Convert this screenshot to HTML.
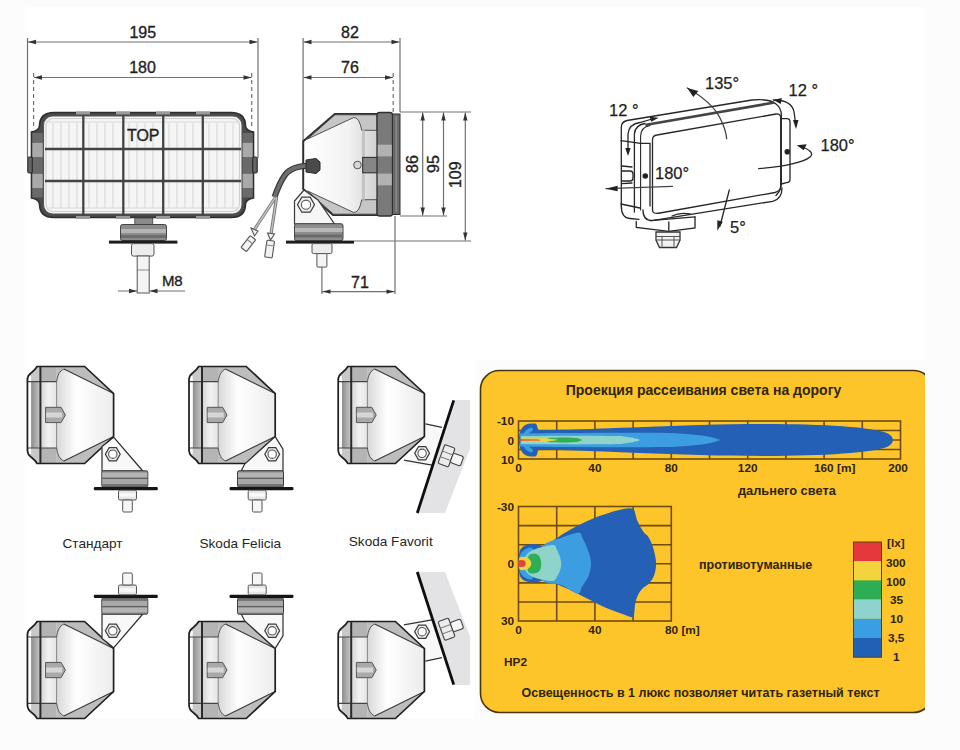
<!DOCTYPE html>
<html><head><meta charset="utf-8">
<style>
html,body{margin:0;padding:0;background:#fff;}
body{width:960px;height:750px;overflow:hidden;}
svg{display:block;font-family:"Liberation Sans",sans-serif;}
</style></head>
<body>
<svg width="960" height="750" viewBox="0 0 960 750">
<defs>
  <clipPath id="clipPanel"><rect x="0" y="0" width="925" height="750"/></clipPath>
</defs>
<rect x="0" y="0" width="960" height="750" fill="#fcfcfc"/>
<rect x="25" y="7" width="899" height="353" fill="#ffffff"/>
<rect x="25" y="359" width="450" height="360" fill="#ffffff"/>

<!-- ============ FRONT VIEW ============ -->
<g id="front">
  <!-- dimension lines -->
  <g stroke="#707070" stroke-width="1.2" fill="none">
    <path d="M27.5,38V158 M258,38V158"/>
    <path d="M33.6,73V128" stroke-dasharray="4,3"/>
    <path d="M251.7,73V128" stroke-dasharray="4,3"/>
    <path d="M28,42H257.5 M34,77.5H251.5"/>
  </g>
  <g fill="#333">
    <path d="M28,42 l8,-2.2 v4.4z M257.5,42 l-8,-2.2 v4.4z M34,77.5 l8,-2.2 v4.4z M251.5,77.5 l-8,-2.2 v4.4z"/>
  </g>
  <g font-size="16" fill="#1f1f1f" stroke="#1f1f1f" stroke-width="0.35" text-anchor="middle">
    <text x="142.8" y="38">195</text>
    <text x="142.5" y="73.3">180</text>
  </g>
  <!-- body with side brackets -->
  <path d="M54,112.5 L231,112.5 Q245.5,112.5 245.5,126 Q246,130.5 253.5,132 L253.5,198 Q246,199.5 245.5,204 Q245.5,217.5 231,217.5 L54,217.5 Q39.5,217.5 39.5,204 Q39,199.5 31.5,198 L31.5,132 Q39,130.5 39.5,126 Q39.5,112.5 54,112.5 Z" fill="#4a4a4a" stroke="#2e2e2e" stroke-width="1.6"/>
  <g fill="#a9a9a9">
    <rect x="32.3" y="142.5" width="10.5" height="14.5"/>
    <rect x="32.3" y="173.5" width="10.5" height="14.5"/>
    <rect x="242.2" y="142.5" width="10.5" height="14.5"/>
    <rect x="242.2" y="173.5" width="10.5" height="14.5"/>
  </g>
  <g fill="#6a6a6a">
    <rect x="32.3" y="133" width="10.5" height="9.5"/>
    <rect x="32.3" y="157" width="10.5" height="16.5"/>
    <rect x="32.3" y="188" width="10.5" height="9.5"/>
    <rect x="242.2" y="133" width="10.5" height="9.5"/>
    <rect x="242.2" y="157" width="10.5" height="16.5"/>
    <rect x="242.2" y="188" width="10.5" height="9.5"/>
  </g>
  <rect x="27.8" y="157" width="4.5" height="16" rx="1.5" fill="#666" stroke="#2e2e2e" stroke-width="1.2"/>
  <rect x="252.7" y="157" width="4.5" height="16" rx="1.5" fill="#666" stroke="#2e2e2e" stroke-width="1.2"/>
  <rect x="43.5" y="116" width="198.5" height="98" rx="9" fill="#f5f5f5" stroke="#555" stroke-width="1.1"/>
  <rect x="46" y="118.5" width="193.5" height="93" rx="7" fill="none" stroke="#d0d0d0" stroke-width="1.2"/>
  <g stroke="#d8d8d8" stroke-width="1.1">
    <path d="M53,123V208 M61,123V208 M69,123V208 M77,123V208 M89,123V208 M97,123V208 M105,123V208 M113,123V208 M129,123V208 M137,123V208 M145,123V208 M153,123V208 M169,123V208 M177,123V208 M185,123V208 M193,123V208 M209,123V208 M217,123V208 M225,123V208 M233,123V208"/>
    <path d="M48,122H238 M48,208H238"/>
  </g>
  <!-- grid bars -->
  <g stroke="#444" stroke-width="2.3">
    <path d="M83.3,112V218 M123.3,112V218 M163.2,112V218 M202.8,112V218"/>
    <path d="M45,149H241 M45,181H241"/>
  </g>
  <g fill="#9a9a9a">
    <rect x="76" y="111.5" width="14" height="3"/><rect x="116" y="111.5" width="14" height="3"/><rect x="156" y="111.5" width="14" height="3"/><rect x="196" y="111.5" width="14" height="3"/>
    <rect x="76" y="216" width="14" height="3"/><rect x="116" y="216" width="14" height="3"/><rect x="156" y="216" width="14" height="3"/><rect x="196" y="216" width="14" height="3"/>
  </g>
  <text x="143.2" y="140.5" font-size="16" fill="#1f1f1f" stroke="#1f1f1f" stroke-width="0.35" text-anchor="middle">TOP</text>
  <!-- mount -->
  <rect x="134.8" y="218" width="18" height="7" fill="#8a8a8a" stroke="#444" stroke-width="0.8"/>
  <rect x="120.5" y="224.5" width="46" height="16" rx="2" fill="#8c8c8c" stroke="#444" stroke-width="1"/>
  <rect x="121" y="229" width="45" height="4" fill="#b5b5b5"/>
  <rect x="121" y="235" width="45" height="3" fill="#6d6d6d"/>
  <rect x="109" y="240.6" width="68.4" height="3" fill="#1e1e1e"/>
  <rect x="131.5" y="243.6" width="22.5" height="12.5" rx="2" fill="#ececec" stroke="#555" stroke-width="1"/>
  <rect x="137.2" y="256" width="12" height="37" fill="#f4f4f4" stroke="#555" stroke-width="1"/>
  <path d="M137.2,270H149.2" stroke="#777" stroke-width="0.8"/>
  <g stroke="#707070" stroke-width="1.2"><path d="M118,291H137 M149.5,291H185"/></g>
  <g fill="#333"><path d="M137,291 l-8,-2.2 v4.4z M149.5,291 l8,-2.2 v4.4z"/></g>
  <text x="172.3" y="285.6" font-size="15" fill="#1f1f1f" stroke="#1f1f1f" stroke-width="0.35" text-anchor="middle">M8</text>
</g>

<!-- ============ SIDE VIEW ============ -->
<defs>
  <linearGradient id="gBody" x1="0" y1="0" x2="1" y2="0">
    <stop offset="0" stop-color="#ffffff"/><stop offset="0.6" stop-color="#f2f2f2"/><stop offset="1" stop-color="#d0d0d0"/>
  </linearGradient>
  <linearGradient id="gBodyL" x1="1" y1="0" x2="0" y2="0">
    <stop offset="0" stop-color="#ffffff"/><stop offset="0.6" stop-color="#f2f2f2"/><stop offset="1" stop-color="#d0d0d0"/>
  </linearGradient>
</defs>
<g id="side">
  <g stroke="#707070" stroke-width="1.2" fill="none">
    <path d="M303.1,38V141 M400,38V112"/>
    <path d="M393.2,73V112" stroke-dasharray="4,3"/>
    <path d="M303.5,42H399.5 M303.5,77.5H393"/>
    <path d="M400,112H471 M400,216H447 M354,241H471"/>
    <path d="M422.7,112.5V215.5 M443.5,112.5V215.5 M465.3,112.5V240.5"/>
    <path d="M321.9,267V294 M395,216V294 M322,291.6H394.5"/>
  </g>
  <g fill="#333">
    <path d="M303.5,42 l8,-2.2 v4.4z M399.5,42 l-8,-2.2 v4.4z M303.5,77.5 l8,-2.2 v4.4z M393,77.5 l-8,-2.2 v4.4z"/>
    <path d="M422.7,112.5 l-2.2,8 h4.4z M422.7,215.5 l-2.2,-8 h4.4z M443.5,112.5 l-2.2,8 h4.4z M443.5,215.5 l-2.2,-8 h4.4z M465.3,112.5 l-2.2,8 h4.4z M465.3,240.5 l-2.2,-8 h4.4z"/>
    <path d="M322.5,291.6 l8,-2.2 v4.4z M394.5,291.6 l-8,-2.2 v4.4z"/>
  </g>
  <g font-size="16" fill="#1f1f1f" stroke="#1f1f1f" stroke-width="0.35" text-anchor="middle">
    <text x="350" y="38">82</text>
    <text x="350" y="73.2">76</text>
    <text x="360" y="288.2">71</text>
    <text transform="translate(418,164) rotate(-90)" x="0" y="0">86</text>
    <text transform="translate(438.5,164) rotate(-90)" x="0" y="0">95</text>
    <text transform="translate(460.5,174.7) rotate(-90)" x="0" y="0">109</text>
  </g>
  <!-- body -->
  <path d="M303.2,141.2 L334.8,114 L378,114 L378,215 L333,215 L303.2,189 Z" fill="url(#gBody)" stroke="#2f2f2f" stroke-width="2"/>
  <path d="M307.6,139 L353.3,117.7 C357,117 360,121 361.7,130.3 L377,130.3 L377,114.8 L335,114.8 Z" fill="#c6c6c6" stroke="#444" stroke-width="0.9"/>
  <path d="M307.6,191 L353.3,212.3 C357,213 360,209 361.7,199.7 L377,199.7 L377,214.2 L333.5,214.2 Z" fill="#c6c6c6" stroke="#444" stroke-width="0.9"/>
  <rect x="362" y="130.3" width="3" height="69.4" fill="#c4c4c4"/>
  <!-- tab -->
  <circle cx="357.5" cy="165" r="3.8" fill="#d8d8d8" stroke="#555" stroke-width="1"/>
  <rect x="362.7" y="157.4" width="15" height="15.4" fill="#868686" stroke="#333" stroke-width="1.1"/>
  <!-- flange -->
  <rect x="377" y="112.5" width="15.5" height="103.5" rx="2.5" fill="#7a7a7a" stroke="#2f2f2f" stroke-width="1.3"/>
  <rect x="377.8" y="144.7" width="14" height="11.7" fill="#b2b2b2"/>
  <rect x="377.8" y="173.6" width="14" height="11.7" fill="#b2b2b2"/>
  <rect x="392.5" y="114" width="7.5" height="100.5" fill="#6a6a6a" stroke="#2f2f2f" stroke-width="1"/>
  <path d="M396.3,116V212" stroke="#8a8a8a" stroke-width="1.6"/>
  <!-- cable -->
  <path d="M312,165.5 C300,165.5 290,168 285,175 C280,182 277,190 274.5,197" fill="none" stroke="#333" stroke-width="6"/>
  <path d="M312,165.5 C300,165.5 290,168 285,175 C280,182 277,190 274.5,197" fill="none" stroke="#6e6e6e" stroke-width="3.8"/>
  <path d="M306,160 L316,158.5 L320,162 L320,170 L316,173.5 L306,172 Z" fill="#4a4a4a" stroke="#2a2a2a" stroke-width="1"/>
  <g fill="none" stroke-linecap="round">
    <path d="M275,198 L254.5,229.5 M276.5,198 L271,234" stroke="#777" stroke-width="3.2"/>
    <path d="M275,198 L254.5,229.5 M276.5,198 L271,234" stroke="#c4c4c4" stroke-width="1.4"/>
  </g>
  <g fill="#f2f2f2" stroke="#555" stroke-width="1.1">
    <path d="M251,228 L258,231 L254.5,236 Z"/>
    <g transform="translate(248,244) rotate(38)"><rect x="-3.5" y="-8" width="7" height="15" rx="1"/><path d="M-3.5,-3 h7" stroke="#888"/></g>
    <path d="M267.5,233 L274.5,234 L270.5,240 Z"/>
    <g transform="translate(269.5,249.5) rotate(8)"><rect x="-3.8" y="-9" width="7.6" height="17" rx="1"/><path d="M-3.8,-4 h7.6" stroke="#888"/></g>
  </g>
  <!-- bracket -->
  <path d="M304,190 L294.5,201 L294.5,224 L334.5,224 L318,200 Z" fill="#f6f6f6" stroke="#3a3a3a" stroke-width="1.2"/>
  <path d="M301.8,197.2 h8.4 l4.3,7.5 l-4.3,7.5 h-8.4 l-4.3,-7.5z" fill="#f0f0f0" stroke="#3a3a3a" stroke-width="1.2"/>
  <circle cx="306" cy="204.7" r="4.6" fill="#fff" stroke="#555" stroke-width="1.1"/>
  <!-- pedestal -->
  <rect x="294.5" y="223.7" width="48.5" height="17" rx="2" fill="#8d8d8d" stroke="#444" stroke-width="1"/>
  <rect x="295" y="228" width="47.5" height="4" fill="#b8b8b8"/>
  <rect x="295" y="234.5" width="47.5" height="3" fill="#6b6b6b"/>
  <rect x="286" y="240.6" width="68" height="3" fill="#1e1e1e"/>
  <rect x="312" y="243.6" width="20" height="10" rx="1.5" fill="#ececec" stroke="#555" stroke-width="1"/>
  <rect x="316.9" y="253.6" width="10" height="13.5" rx="1" fill="#f4f4f4" stroke="#555" stroke-width="1"/>
</g>

<!-- ============ PERSPECTIVE VIEW ============ -->
<g id="persp" fill="none" stroke="#262626" stroke-width="1.3" stroke-linecap="round">
  <!-- outer top line -->
  <path d="M621.3,206 L621.3,127 Q621.3,122 627,120.5 L752,100 Q770,98.5 776,104 Q781.3,108 781.3,115 L781.3,184 Q781.3,190 776,195.5"/>
  <!-- thick top line -->
  <path d="M646.5,124.7 L773.3,102.7" stroke-width="2.6" stroke="#444"/>
  <path d="M640.6,210 L640.6,136 Q641,127 650,125.5" stroke-width="1.1"/>
  <path d="M634.4,212 L634.4,134 Q635,125 645,123.5"/>
  <!-- lens outline -->
  <path d="M652.5,210 L652.5,140 Q652.5,135.5 657,135 L776,114 Q780.7,113.5 780.7,118 L780.7,186 Q780.7,191 775,192.5 L660,213 Q652.5,214.5 652.5,210 Z" fill="#fff"/>
  <!-- outer bottom -->
  <path d="M643,210 Q643,220.6 652,220.6 L772.7,201.3 Q782,199 782,188" />
  <path d="M621.3,206 Q621.3,218 630,218.5 L639,219.4"/>
  <path d="M621,204 L640,208"/>
  <path d="M621,140.7 L640.6,143.3"/>
  <!-- left bracket -->
  <path d="M640.6,143.3 L650,143.3 L650,206"/>
  <!-- latch -->
  <path d="M622,166 L632,167 M622,183.7 L632,183 M622,171 L630,171 Q633,171 633,174 L633,178 Q633,181 630,181 L622,181"/>
  <!-- right bracket -->
  <path d="M781.3,118.7 L787,118.7 Q790,118.7 790,122 L790,179 Q790,182.7 786.5,182.7 L781.3,184"/>
  <!-- mount -->
  <path d="M636.3,221.3 L636.3,227.5 L668.8,231.3 L695,228 L695,216.9"/>
  <path d="M668.8,222 L668.8,231.3 M650,220.6 L695,216.9 M672,216 Q680,212 690,214"/>
  <path d="M656,232 L680,232 L680,240 L676.5,247.5 L659.5,247.5 L656,240 Z" fill="#f2f2f2" stroke="#333"/>
  <path d="M656,236.5 H680 M656,240 H680 M662,236.5 V247.5 M674,236.5 V247.5" stroke="#555" stroke-width="1"/>
  <!-- arrows / arcs -->
  <path d="M628,150 L628,134 Q629,124 640,122.5 L652,119"/>
  <path d="M687.3,88 Q712,102 720,118 Q726,130 726.7,138.7" stroke="#444"/>
  <path d="M773.3,100 Q792,100 794,112 L796,126"/>
  <path d="M758.7,168.7 Q800,165 810,157 Q816,152 800,146"/>
  <path d="M606,188.7 L672.5,186.3" stroke="#444"/>
  <path d="M729.3,190 L720,226"/>
</g>
<g fill="#222" stroke="none">
  <path d="M687.3,88 l11,3 l-5,6z"/>
  <path d="M773.3,100 l8,-3.5 l0,6z" transform="rotate(10 773 100)"/>
  <path d="M796,129 l-3,-9 l5.5,0z"/>
  <path d="M796.7,145.3 l10,-1 l-3,6z"/>
  <path d="M605.6,188.7 l12,-3 l0,5.5z"/>
  <path d="M628,156 l-2.8,-8 l5.5,0z"/>
  <path d="M658.7,117.7 l-9,-1 l1.5,5z"/>
  <path d="M717.3,230.7 l0,-10.5 l5.5,1.5z"/>
  <circle cx="645.3" cy="176" r="2.8"/>
  <circle cx="787.3" cy="151.7" r="2.8"/>
</g>
<g font-size="16.5" fill="#1f1f1f" stroke="#1f1f1f" stroke-width="0.25">
  <text x="705" y="89.3">135°</text>
  <text x="609" y="116">12 °</text>
  <text x="788.5" y="95.5">12 °</text>
  <text x="820.5" y="150.5">180°</text>
  <text x="655" y="178.7">180°</text>
  <text x="730" y="232.5">5°</text>
</g>

<!-- ============ MOUNT VARIATIONS ============ -->
<defs>
  <linearGradient id="gSm" x1="0" y1="0" x2="1" y2="0">
    <stop offset="0" stop-color="#d8d8d8"/><stop offset="0.35" stop-color="#ffffff"/><stop offset="1" stop-color="#ececec"/>
  </linearGradient>
  <linearGradient id="gFront" x1="0" y1="0" x2="1" y2="0">
    <stop offset="0" stop-color="#8c8c8c"/><stop offset="1" stop-color="#c4c4c4"/>
  </linearGradient>
  <linearGradient id="gFlange" x1="0" y1="0" x2="1" y2="0">
    <stop offset="0" stop-color="#d4d4d4"/><stop offset="0.5" stop-color="#f2f2f2"/><stop offset="1" stop-color="#e4e4e4"/>
  </linearGradient>
  <g id="smLamp">
    <!-- outer fill -->
    <path d="M10.5,0.5 L58,0.5 L87,27.5 L87,70.5 L58,97.5 L10.5,97.5 C9,95 7,93 5,91.5 C2,89.5 0.8,87 0.8,84 L0.8,14 C0.8,11 2,8.5 5,6.5 C7,5 9,3 10.5,0.5 Z" fill="#c8c8c8"/>
    <rect x="1" y="15.6" width="12.8" height="66.4" fill="#f4f4f4"/>
    <!-- front lens -->
    <path d="M4.3,15.6 L13,15.6 L13,82 L4.3,82 Z" fill="url(#gFront)"/>
    <rect x="2" y="10" width="2.5" height="78" fill="#ffffff"/>
    <!-- flange -->
    <rect x="13.8" y="0.5" width="16.2" height="15.1" fill="#b4b4b4"/>
    <rect x="13.8" y="82" width="16.2" height="15.5" fill="#b4b4b4"/>
    <rect x="13.8" y="15.6" width="16.2" height="66.4" fill="url(#gFlange)"/>
    <!-- body -->
    <path d="M30,0.5 L58,0.5 L87,27.5 L87,70.5 L58,97.5 L30,97.5 Z" fill="url(#gSm)"/>
    <path d="M30,15.6 C31,9 33,5 37.3,3 L87,27.5 L58,0.5 L30,0.5 Z" fill="#bdbdbd"/>
    <path d="M30,82 C31,89 33,93 37.3,95 L87,70.5 L58,97.5 L30,97.5 Z" fill="#bdbdbd"/>
    <path d="M30,15.6 C31,9 33,5 37.3,3 M30,82 C31,89 33,93 37.3,95" fill="none" stroke="#555" stroke-width="1"/>
    <path d="M37.3,3 L87,27.5 M37.3,95 L87,70.5" stroke="#3a3a3a" stroke-width="1.1" fill="none"/>
    <path d="M30,15.6 V82" stroke="#888" stroke-width="1"/>
    <path d="M1,15.6 H30 M1,82 H30" stroke="#444" stroke-width="1.1"/>
    <path d="M10.5,0.5 L58,0.5 L87,27.5 L87,70.5 L58,97.5 L10.5,97.5 C9,95 7,93 5,91.5 C2,89.5 0.8,87 0.8,84 L0.8,14 C0.8,11 2,8.5 5,6.5 C7,5 9,3 10.5,0.5 Z" fill="none" stroke="#1e1e1e" stroke-width="1.7"/>
    <path d="M13.8,0.5 V97.5" stroke="#2a2a2a" stroke-width="2"/>
    <!-- tab -->
    <path d="M19,41.3 L34.4,41.3 L38.8,49 L34.4,56.6 L19,56.6 Z" fill="#a9a9a9" stroke="#555" stroke-width="1"/>
    <rect x="19.5" y="46.5" width="16" height="5" fill="#d6d6d6"/>
  </g>
  <g id="pedBody">
    <!-- centered at x=0, top y=0 -->
    <rect x="-23" y="0" width="46" height="16.2" rx="1.5" fill="#8f8f8f" stroke="#3c3c3c" stroke-width="1"/>
    <rect x="-22.5" y="1.8" width="45" height="5" fill="#b3b3b3"/>
    <rect x="-22.5" y="8.2" width="45" height="5.6" fill="#a8a8a8"/>
    <path d="M-22.5,7.5 H22.5 M-22.5,14.2 H22.5" stroke="#555" stroke-width="1"/>
    <rect x="-31" y="16.2" width="64" height="3.2" rx="1.2" fill="#151515"/>
  </g>
  <g id="nutBolt">
    <!-- centered at x=0, top y=0 (under plate) -->
    <rect x="-9" y="0" width="18" height="9.8" rx="1.5" fill="#e6e6e6" stroke="#555" stroke-width="1"/>
    <rect x="-8" y="3" width="16" height="3.5" fill="#f8f8f8"/>
    <rect x="-4.8" y="9.8" width="9.6" height="12" rx="1.2" fill="#f6f6f6" stroke="#555" stroke-width="1"/>
  </g>
  <g id="nutHex">
    <path d="M-3.6,-6.6 h7.2 l3.8,6.6 l-3.8,6.6 h-7.2 l-3.8,-6.6z" fill="#f0f0f0" stroke="#3a3a3a" stroke-width="1.2"/>
    <circle cx="0" cy="0" r="4.2" fill="#fff" stroke="#555" stroke-width="1.1"/>
  </g>
  <g id="rowTop">
    <!-- Standard -->
    <g transform="translate(26.6,366)">
      <use href="#smLamp"/>
      <path d="M87,71.2 L79,77.8 L75.4,80.6 L75.4,105 L116.2,105 Z" fill="#f8f8f8" stroke="#2e2e2e" stroke-width="1.2"/>
      <use href="#nutHex" transform="translate(86.2,88.2)"/>
      <use href="#pedBody" transform="translate(98.2,104.8)"/>
      <use href="#nutBolt" transform="translate(100.9,124.2)"/>
    </g>
    <!-- Felicia -->
    <g transform="translate(188.2,366)">
      <use href="#smLamp"/>
      <path d="M87,70.6 L94.8,83.2 L94.8,105 L53,105 L56.5,98 Z" fill="#f8f8f8" stroke="#2e2e2e" stroke-width="1.2"/>
      <use href="#nutHex" transform="translate(84,88.2)"/>
      <use href="#pedBody" transform="translate(72.3,104.8)"/>
      <use href="#nutBolt" transform="translate(69,124.2)"/>
    </g>
    <!-- Favorit -->
    <path d="M453.7,400 L470.2,400 L470.2,448 L445,513 L417.3,513 Z" fill="#e3e3e5"/>
    <g transform="translate(337.4,366)">
      <path d="M88,57.8 L104.6,61.3 L96,100 L66,99 L88,70 Z" fill="#f8f8f8" stroke="none"/>
      <use href="#smLamp"/>
      <path d="M88,57.8 L104.6,61.3 M66.5,94.2 L96,99.4" stroke="#333" stroke-width="1.2" fill="none"/>
      <use href="#nutHex" transform="translate(84.7,87.3)"/>
    </g>
    <g transform="translate(447,456) rotate(20)">
      <rect x="-6" y="-10" width="11" height="20" rx="1.5" fill="#ececec" stroke="#444" stroke-width="1.1"/>
      <path d="M-6,-3 h11 M-6,3 h11" stroke="#777" stroke-width="0.9"/>
      <rect x="5" y="-5" width="11" height="10" rx="2" fill="#f6f6f6" stroke="#444" stroke-width="1.1"/>
    </g>
    <path d="M453.7,400.4 L417.3,513" stroke="#0e0e0e" stroke-width="2.8"/>
  </g>
</defs>
<use href="#rowTop"/>
<use href="#rowTop" transform="translate(0,1085) scale(1,-1)"/>
<g font-size="13.6" fill="#262626">
  <text x="62.5" y="547.5">Стандарт</text>
  <text x="199.5" y="547.5">Skoda Felicia</text>
  <text x="348.8" y="545.5">Skoda Favorit</text>
</g>

<!-- ============ YELLOW PANEL ============ -->
<g id="panel" clip-path="url(#clipPanel)">
  <rect x="480.5" y="370.5" width="452" height="342" rx="19" ry="19" fill="#FEC52A" stroke="#4a3510" stroke-width="1.6"/>
  <text x="703.5" y="394.5" font-size="14" font-weight="bold" fill="#2e2406" text-anchor="middle">Проекция рассеивания света на дорогу</text>

  <g stroke="#6e4c0e" stroke-width="1.6" fill="none">
    <rect x="518.5" y="421" width="382" height="38"/>
    <path d="M556.7,421V459 M594.9,421V459 M633.1,421V459 M671.3,421V459 M709.5,421V459 M747.7,421V459 M785.9,421V459 M824.1,421V459 M862.3,421V459"/>
    <path d="M518.5,430.5H900.5 M518.5,440H900.5 M518.5,449.5H900.5"/>
  </g>
  <!-- top chart beam -->
  <g id="beam1">
    <path d="M519,440 C519,430 523,424 530,423.5 L535.5,423.5 C537.5,424.5 537.2,428 538.5,430 C560,430.5 610,428 700,425 C790,422.5 868,425 888,433.5 C894.5,437 894.5,443 888,446.5 C868,455 790,457.5 700,455 C610,452 560,449.5 538.5,449.5 C537.2,452 537.5,455.5 535.5,456.5 L530,456.5 C523,456 519,450 519,440 Z" fill="#2360B6"/>
    <path d="M521,437 C523,433 527,429 531,427.5 C533,428 534,429 532,431 C528,434 525,437 521,438.5 Z M521,443 C523,447 527,451 531,452.5 C533,452 534,451 532,449 C528,446 525,443 521,441.5 Z" fill="#3C9DE0"/>
    <path d="M520,433.5 C560,433 620,432.5 670,433 C705,434.5 716,438 720,440 C716,442 705,445.5 670,447 C620,447.5 560,447 520,446.5 Z" fill="#3C9DE0"/>
    <path d="M521,436 C560,435.5 600,435.5 620,436 C632,437 638,439 640,440 C638,441 632,443 620,444 C600,444.5 560,444.5 521,444 Z" fill="#8FD3CB"/>
    <path d="M548,438 C560,437.3 572,437.3 578,438.3 C581,439.2 582,440 582,440 C582,440 581,440.8 578,441.7 C572,442.7 560,442.7 548,442 Z" fill="#2FAE55"/>
    <path d="M522,438.2 L545,438.3 C552,438.8 556,439.6 558,440 C556,440.4 552,441.2 545,441.7 L522,441.8 Z" fill="#F2D43A"/>
    <path d="M519,439.2 L538,439.4 C540,439.7 541,440 541,440 C541,440 540,440.3 538,440.6 L519,440.8 Z" fill="#D9483A"/>
  </g>
  <g font-size="11.8" font-weight="bold" fill="#2e2406">
    <text x="514" y="425" text-anchor="end">-10</text>
    <text x="514" y="444.5" text-anchor="end">0</text>
    <text x="514" y="464.3" text-anchor="end">10</text>
    <text x="518.5" y="472" text-anchor="middle">0</text>
    <text x="594.9" y="472" text-anchor="middle">40</text>
    <text x="671.3" y="472" text-anchor="middle">80</text>
    <text x="747.7" y="472" text-anchor="middle">120</text>
    <text x="814" y="472">160 [m]</text>
    <text x="898" y="472" text-anchor="middle">200</text>
    <text x="738" y="495" font-size="12.8">дальнего света</text>
  </g>

  <g stroke="#6e4c0e" stroke-width="1.6" fill="none">
    <rect x="518.5" y="506.5" width="152.8" height="114.5"/>
    <path d="M556.7,506.5V621 M594.9,506.5V621 M633.1,506.5V621"/>
    <path d="M518.5,525.6H671.3 M518.5,544.7H671.3 M518.5,563.8H671.3 M518.5,582.9H671.3 M518.5,602H671.3"/>
  </g>
  <!-- second chart -->
  <g id="beam2">
    <path d="M518.6,563.2 C518.6,559.8 518.6,555.7 519.3,553.0 C519.9,550.3 520.7,548.5 522.5,547.0 C524.3,545.5 527.4,544.6 530.0,544.2 C532.6,543.8 535.5,544.2 538.0,544.6 C540.5,545.0 542.6,547.4 545.0,546.8 C547.4,546.2 548.4,543.9 552.4,541.1 C556.4,538.4 562.8,533.9 569.2,530.3 C575.6,526.7 583.2,522.7 590.8,519.5 C598.4,516.3 608.4,513.0 614.8,511.1 C621.2,509.2 626.0,508.4 629.2,508.2 C632.4,508.0 632.9,509.0 634.0,509.9 C635.0,510.9 634.8,512.1 635.4,514.0 C636.0,515.9 636.2,518.2 637.6,521.2 C638.9,524.2 641.8,529.4 643.6,532.0 C645.4,534.6 646.7,534.2 648.3,536.8 C649.9,539.4 651.9,543.4 653.1,547.6 C654.4,551.8 655.8,557.6 656.0,562.0 C656.3,566.4 655.7,570.5 654.6,574.0 C653.5,577.5 651.4,580.6 649.5,582.9 C647.7,585.1 645.4,585.8 643.6,587.6 C641.8,589.4 640.1,591.1 638.8,593.6 C637.4,596.2 636.2,599.2 635.4,602.8 C634.6,606.3 634.6,612.4 634.0,614.8 C633.3,617.2 633.2,617.2 631.6,617.2 C630.0,617.2 628.8,616.4 624.4,614.8 C620.0,613.2 611.6,610.4 605.2,607.6 C598.8,604.8 592.0,601.0 586.0,598.0 C580.0,595.0 574.4,592.0 569.2,589.6 C564.0,587.2 558.8,585.2 554.8,583.6 C550.8,582.0 547.8,580.3 545.0,580.0 C542.2,579.7 540.5,581.6 538.0,582.0 C535.5,582.4 532.6,582.6 530.0,582.2 C527.4,581.8 524.3,581.0 522.5,579.5 C520.7,578.0 519.9,576.2 519.3,573.5 C518.6,570.8 518.6,566.6 518.6,563.2Z" fill="#2360B6"/>
    <path d="M541.6,548.1 C545.0,541.1 555.8,540.1 562.0,537.5 C568.2,534.9 575.4,532.6 578.8,532.7 C582.2,532.8 581.2,535.9 582.4,538.0 C583.6,540.1 584.8,542.4 586.0,545.2 C587.2,548.0 588.7,551.6 589.6,554.8 C590.4,558.0 591.2,560.8 591.0,564.4 C590.8,568.0 589.8,572.8 588.4,576.4 C586.9,580.0 584.2,583.1 582.4,586.0 C580.6,588.8 581.0,593.8 577.6,593.6 C574.2,593.5 568.0,587.6 562.0,585.2 C556.0,582.9 545.0,585.4 541.6,579.3 C538.2,573.1 538.2,555.0 541.6,548.1Z" fill="#3C9DE0"/>
    <path d="M519.5,557.0 C520.2,553.7 521.9,551.5 524.0,550.0 C526.1,548.5 530.0,546.3 532.0,548.0 C534.0,549.7 535.3,556.7 536.0,560.0 C536.7,563.3 536.7,564.8 536.0,568.0 C535.3,571.2 534.0,577.5 532.0,579.0 C530.0,580.5 526.1,578.5 524.0,577.0 C521.9,575.5 520.2,573.3 519.5,570.0 C518.8,566.7 518.8,560.3 519.5,557.0Z" fill="#3C9DE0"/>
    <path d="M531.0,551.0 C533.7,549.4 537.2,548.3 541.0,547.3 C544.8,546.3 550.9,544.5 553.6,545.0 C556.3,545.5 555.9,548.0 557.0,550.0 C558.1,552.0 559.3,554.7 560.0,557.0 C560.7,559.3 561.3,561.7 561.3,564.0 C561.3,566.3 560.6,568.8 559.8,571.0 C559.0,573.2 557.6,575.8 556.5,577.5 C555.4,579.2 555.6,580.7 553.0,581.0 C550.4,581.3 544.7,580.3 541.0,579.5 C537.3,578.7 533.7,577.6 531.0,576.0 C528.3,574.4 526.2,572.1 525.0,570.0 C523.8,567.9 523.5,565.7 523.5,563.5 C523.5,561.3 523.8,559.1 525.0,557.0 C526.2,554.9 528.3,552.6 531.0,551.0Z" fill="#8FD3CB"/>
    <path d="M528.8,555.5 C530.1,553.8 533.3,553.7 535.0,553.8 C536.7,553.9 538.0,555.0 539.0,556.0 C540.0,557.0 540.4,558.7 540.8,560.0 C541.2,561.3 541.2,562.7 541.2,564.0 C541.2,565.3 541.2,566.8 540.8,568.0 C540.4,569.2 540.0,570.6 539.0,571.5 C538.0,572.4 536.7,573.0 535.0,573.2 C533.3,573.4 530.1,574.0 528.8,572.5 C527.5,571.0 527.0,566.8 527.0,564.0 C527.0,561.2 527.5,557.2 528.8,555.5Z" fill="#2FAE55"/>
    <path d="M519.5,558.0 C520.6,556.0 524.2,557.0 526.0,557.3 C527.8,557.6 529.1,559.0 530.0,560.0 C530.9,561.0 531.3,562.3 531.3,563.5 C531.3,564.7 530.9,566.0 530.0,567.0 C529.1,568.0 527.8,569.3 526.0,569.6 C524.2,569.9 520.6,570.9 519.5,569.0 C518.4,567.1 518.4,560.0 519.5,558.0Z" fill="#F2D43A"/>
    <path d="M518.8,560.5 C519.7,559.5 522.8,559.9 524.0,560.4 C525.2,560.9 525.8,562.4 525.8,563.4 C525.8,564.4 525.2,566.1 524.0,566.6 C522.8,567.1 519.7,567.5 518.8,566.5 C517.9,565.5 517.9,561.5 518.8,560.5Z" fill="#E0463A"/>
  </g>
  <g font-size="11.8" font-weight="bold" fill="#2e2406">
    <text x="514" y="511" text-anchor="end">-30</text>
    <text x="514" y="568" text-anchor="end">0</text>
    <text x="514" y="625" text-anchor="end">30</text>
    <text x="518.5" y="634" text-anchor="middle">0</text>
    <text x="594.9" y="634" text-anchor="middle">40</text>
    <text x="665" y="634">80 [m]</text>
    <text x="504" y="666">HP2</text>
    <text x="699" y="568.5" font-size="12.5">противотуманные</text>
  </g>

  <!-- legend -->
  <g>
    <rect x="853.5" y="542" width="28" height="19.2" fill="#E4383C"/>
    <rect x="853.5" y="561.2" width="28" height="19.2" fill="#F3D43D"/>
    <rect x="853.5" y="580.4" width="28" height="19.2" fill="#2DAE54"/>
    <rect x="853.5" y="599.6" width="28" height="19.2" fill="#8ED3CD"/>
    <rect x="853.5" y="618.8" width="28" height="19.2" fill="#3A9EE2"/>
    <rect x="853.5" y="638" width="28" height="19.2" fill="#2060B5"/>
    <rect x="853.5" y="542" width="28" height="115.2" fill="none" stroke="#5b420e" stroke-width="1"/>
  </g>
  <g font-size="11.8" font-weight="bold" fill="#2e2406">
    <text x="887" y="547">[lx]</text>
    <text x="886" y="566.5">300</text>
    <text x="886" y="585.5">100</text>
    <text x="890" y="604">35</text>
    <text x="890" y="623">10</text>
    <text x="888" y="641.5">3,5</text>
    <text x="893" y="660.5">1</text>
  </g>
  <text x="700.5" y="696.5" font-size="12.5" font-weight="bold" fill="#2e2406" text-anchor="middle">Освещенность в 1 люкс позволяет читать газетный текст</text>
</g>

</svg>
</body></html>
